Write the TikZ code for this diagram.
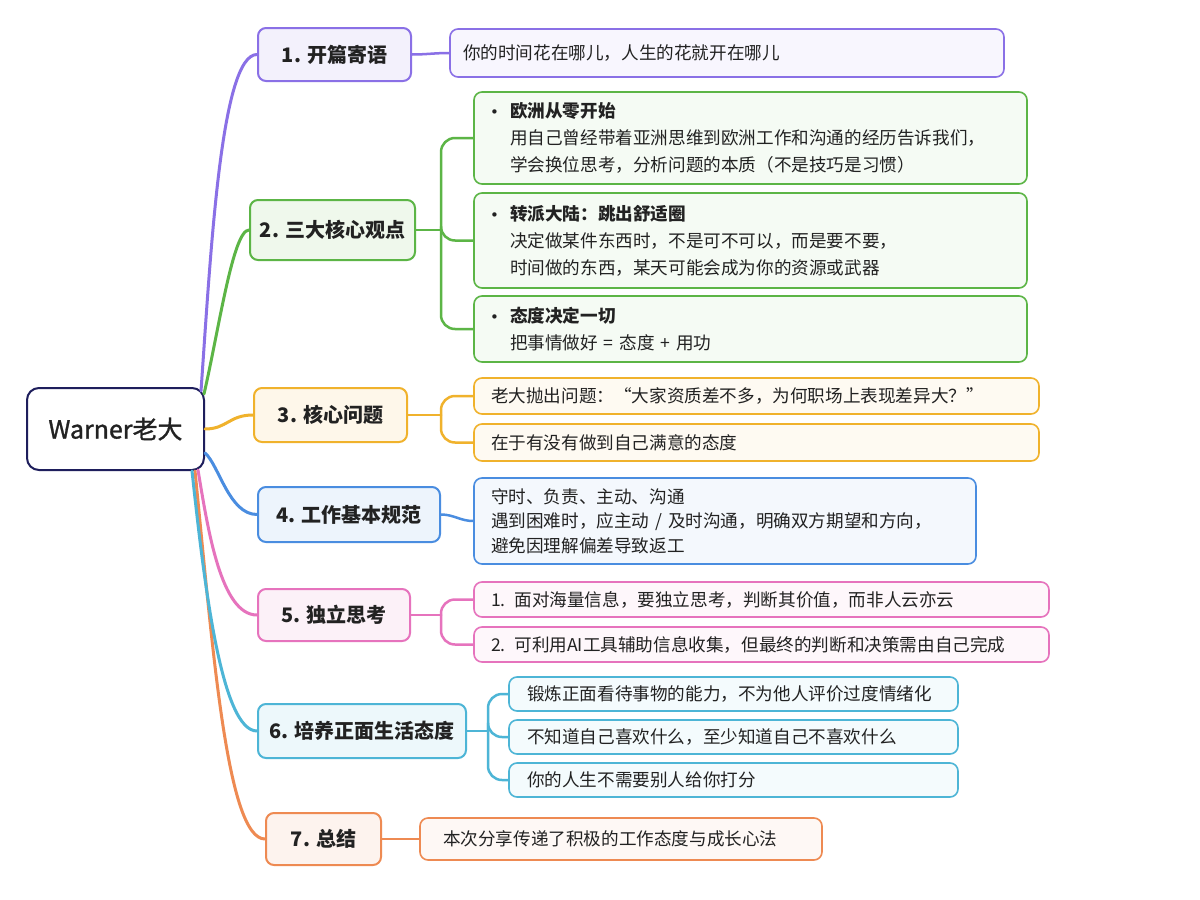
\documentclass[tikz,border=0pt]{standalone}
\usepackage{fontspec}
\setmainfont{Noto Sans CJK SC}
\newfontfamily\rootfont{Noto Sans CJK SC}[FakeBold=1.2]
\newfontfamily\bulletfont{DejaVu Sans}
\usetikzlibrary{calc}
\definecolor{cPur}{HTML}{8A70E6}
\definecolor{cGrn}{HTML}{5CB546}
\definecolor{cYel}{HTML}{F0B22C}
\definecolor{cBlu}{HTML}{4A8DE0}
\definecolor{cPnk}{HTML}{E673BD}
\definecolor{cCyn}{HTML}{4DB5D6}
\definecolor{cOrg}{HTML}{EE8A52}
\definecolor{cRoot}{HTML}{1E1E5C}
\definecolor{txt}{HTML}{222222}
\newcommand{\bul}{\hspace*{2pt}\makebox[20pt][l]{\bulletfont\fontsize{15}{27}\selectfont •}}
\tikzset{
  mainbox/.style={draw=#1, fill=#1!10, rounded corners=8pt, line width=2pt,
    font=\fontsize{20}{24}\selectfont\bfseries, text=txt, inner sep=0pt},
  childbox/.style={draw=#1, fill=#1!6, rounded corners=8pt, line width=1.6pt,
    align=left, inner ysep=0pt, text=txt, font=\fontsize{17.6}{27}\selectfont},
  rootlink/.style={draw=#1, line width=3pt, line cap=round},
  sublink/.style={draw=#1, line width=2.5pt, rounded corners=14pt, line cap=round},
}
\begin{document}
\begin{tikzpicture}[x=1pt,y=-1pt]
\useasboundingbox[fill=white] (0,0) rectangle (1200,900);

% root
\node[draw=cRoot, fill=white, line width=2pt, rounded corners=12pt,
  minimum width=177pt, minimum height=82pt, inner sep=0pt, text=txt,
  font=\rootfont\fontsize{25}{29}\selectfont] (root) at (115.5,429) {Warner老大};

% main nodes
\node[mainbox=cPur, minimum width=153pt, minimum height=53pt] (n1) at (334.5,54.5) {1. 开篇寄语};
\node[mainbox=cGrn, minimum width=165pt, minimum height=60pt] (n2) at (332.5,230) {2. 三大核心观点};
\node[mainbox=cYel, minimum width=153pt, minimum height=54pt] (n3) at (330.5,415) {3. 核心问题};
\node[mainbox=cBlu, minimum width=182pt, minimum height=55pt] (n4) at (349,514.5) {4. 工作基本规范};
\node[mainbox=cPnk, minimum width=152pt, minimum height=52pt] (n5) at (334,615) {5. 独立思考};
\node[mainbox=cCyn, minimum width=208pt, minimum height=54pt] (n6) at (362,731) {6. 培养正面生活态度};
\node[mainbox=cOrg, minimum width=115pt, minimum height=52pt] (n7) at (323.5,839) {7. 总结};

% children
\node[childbox=cPur, minimum width=554pt, text width=528pt, inner xsep=13pt, minimum height=48pt] (c1) at (727,53)
  {你的时间花在哪儿，人生的花就开在哪儿};

\node[childbox=cGrn, minimum width=553pt, text width=525pt, inner xsep=14pt, minimum height=92pt] (c21) at (750.5,138)
  {\bul\textbf{欧洲从零开始}\\
   \hspace*{22pt}用自己曾经带着亚洲思维到欧洲工作和沟通的经历告诉我们，\\
   \hspace*{22pt}学会换位思考，分析问题的本质（不是技巧是习惯）};
\node[childbox=cGrn, minimum width=553pt, text width=525pt, inner xsep=14pt, minimum height=95pt] (c22) at (750.5,240.5)
  {\bul\textbf{转派大陆：跳出舒适圈}\\
   \hspace*{22pt}决定做某件东西时，不是可不可以，而是要不要，\\
   \hspace*{22pt}时间做的东西，某天可能会成为你的资源或武器};
\node[childbox=cGrn, minimum width=553pt, text width=525pt, inner xsep=14pt, minimum height=66pt] (c23) at (750.5,329)
  {\bul\textbf{态度决定一切}\\
   \hspace*{22pt}把事情做好 = 态度 + 用功};

\node[childbox=cYel, minimum width=565pt, text width=531pt, inner xsep=17pt, minimum height=36pt] (c31) at (756.5,396)
  {老大抛出问题：“大家资质差不多，为何职场上表现差异大？”};
\node[childbox=cYel, minimum width=565pt, text width=531pt, inner xsep=17pt, minimum height=37pt] (c32) at (756.5,442.5)
  {在于有没有做到自己满意的态度};

\node[childbox=cBlu, minimum width=502pt, text width=468pt, inner xsep=17pt, minimum height=86pt,
  font=\fontsize{17.6}{24.5}\selectfont] (c4) at (725,521)
  {守时、负责、主动、沟通\\
   遇到困难时，应主动 / 及时沟通，明确双方期望和方向，\\
   避免因理解偏差导致返工};

\node[childbox=cPnk, minimum width=575pt, text width=541pt, inner xsep=17pt, minimum height=35pt] (c51) at (761.5,599.5)
  {1. 面对海量信息，要独立思考，判断其价值，而非人云亦云};
\node[childbox=cPnk, minimum width=575pt, text width=541pt, inner xsep=17pt, minimum height=35pt] (c52) at (761.5,644.5)
  {2. 可利用AI工具辅助信息收集，但最终的判断和决策需由自己完成};

\node[childbox=cCyn, minimum width=449pt, text width=413pt, inner xsep=18pt, minimum height=34pt] (c61) at (733.5,694)
  {锻炼正面看待事物的能力，不为他人评价过度情绪化};
\node[childbox=cCyn, minimum width=449pt, text width=413pt, inner xsep=18pt, minimum height=34pt] (c62) at (733.5,737)
  {不知道自己喜欢什么，至少知道自己不喜欢什么};
\node[childbox=cCyn, minimum width=449pt, text width=413pt, inner xsep=18pt, minimum height=34pt] (c63) at (733.5,780)
  {你的人生不需要别人给你打分};

\node[childbox=cOrg, minimum width=402pt, text width=356pt, inner xsep=23pt, minimum height=42pt] (c7) at (621,839)
  {本次分享传递了积极的工作态度与成长心法};

% root connectors
\draw[rootlink=cPur] ($(root.north east)+(-4,4)$) .. controls +(10,-142) and +(-36,0) .. (n1.west);
\draw[rootlink=cGrn] ($(root.north east)+(-1,7)$) .. controls +(15,-65) and +(-16,0) .. (n2.west);
\draw[rootlink=cYel] (root.east) .. controls +(22,0) and +(-24,0) .. (n3.west);
\draw[rootlink=cBlu] ($(root.east)+(0,24)$) .. controls +(14,12) and +(-28,0) .. (n4.west);
\draw[rootlink=cOrg] ($(root.south east)+(-10,0)$) .. controls +(18,180) and +(-38,0) .. (n7.west);
\draw[rootlink=cCyn] ($(root.south east)+(-13,0)$) .. controls +(12,110) and +(-36,0) .. (n6.west);
\draw[rootlink=cPnk] ($(root.south east)+(-7,-1)$) .. controls +(10,60) and +(-36,0) .. (n5.west);

% sub connectors
\draw[sublink=cPur] (n1.east) to[out=0,in=180] (c1.west);
\coordinate (j2) at ($(n2.east)+(25,0)$);
\draw[sublink=cGrn] (n2.east) -- (j2);
\draw[sublink=cGrn] (j2) |- (c21.west);
\draw[sublink=cGrn] (j2) |- (c22.west);
\draw[sublink=cGrn] (j2) |- (c23.west);
\coordinate (j3) at ($(n3.east)+(33,0)$);
\draw[sublink=cYel] (n3.east) -- (j3);
\draw[sublink=cYel] (j3) |- (c31.west);
\draw[sublink=cYel] (j3) |- (c32.west);
\draw[sublink=cBlu] (n4.east) to[out=0,in=180] (c4.west);
\coordinate (j5) at ($(n5.east)+(30,0)$);
\draw[sublink=cPnk] (n5.east) -- (j5);
\draw[sublink=cPnk] (j5) |- (c51.west);
\draw[sublink=cPnk] (j5) |- (c52.west);
\coordinate (j6) at ($(n6.east)+(21,0)$);
\draw[sublink=cCyn] (n6.east) -- (j6);
\draw[sublink=cCyn] (j6) |- (c61.west);
\draw[sublink=cCyn] (j6) |- (c62.west);
\draw[sublink=cCyn] (j6) |- (c63.west);
\draw[sublink=cOrg] (n7.east) -- (c7.west);
\end{tikzpicture}
\end{document}
